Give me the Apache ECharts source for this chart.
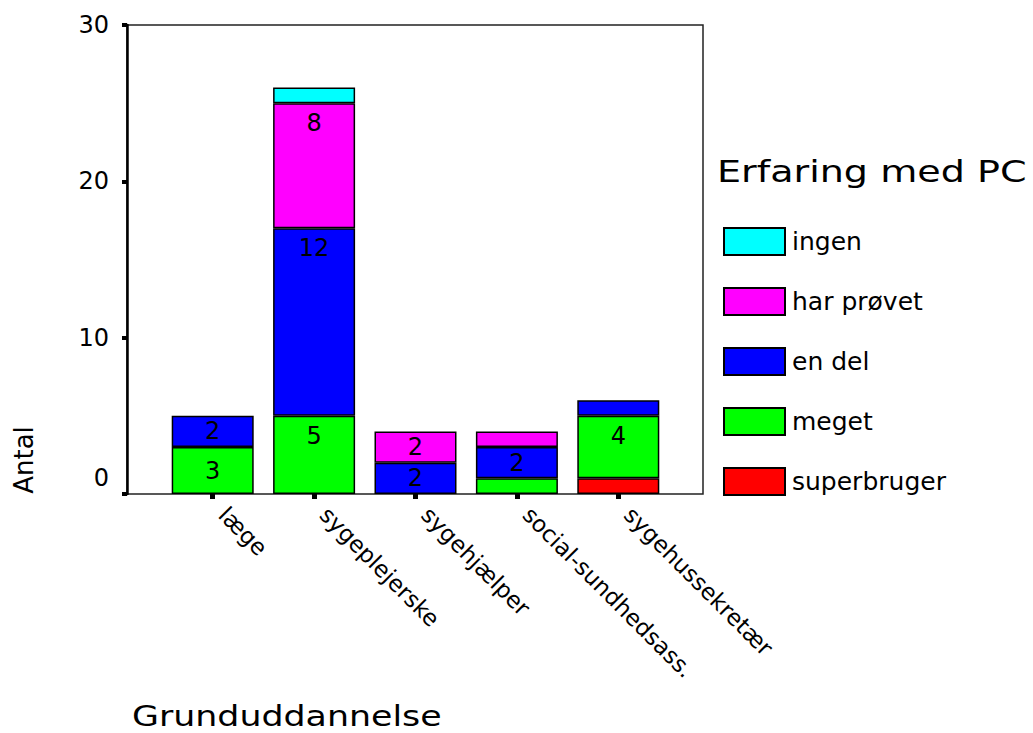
<!DOCTYPE html>
<html>
<head>
<meta charset="utf-8">
<script src="https://cdn.jsdelivr.net/npm/echarts@6/dist/echarts.min.js"></script>
<style>
  html, body { margin: 0; padding: 0; background: #fff; }
  #chart { width: 1033px; height: 733px; }
</style>
</head>
<body>
<div id="chart"></div>
<script>
// kategorier og tal
var categories = ['læge', 'sygeplejerske', 'sygehjælper', 'social-sundhedsass.', 'sygehussekretær'];
var superbruger = [0, 0, 0, 0, 1];
var meget = [3, 5, 0, 1, 4];
var enDel = [2, 12, 2, 2, 1];
var harProvet = [0, 8, 2, 1, 0];
var ingen = [0, 1, 0, 0, 0];
var yTicks = [0, 10, 20, 30];

var FONT = 'DejaVu Sans';

var myCharts = echarts.init(document.getElementById('chart'), null, {renderer: 'svg'});

// 0 tegnes ikke, tal under 2 får ingen etiket
function toData(arr) {
    return arr.map(function (v) {
        if (!v) return '-';
        return {
            value: v,
            label: {
                show: v >= 2,
                position: v > 3 ? 'insideTop' : 'inside',
                distance: 8
            }
        };
    });
}

function makeSeries(name, arr, color) {
    return {
        name: name,
        type: 'bar',
        stack: 'antal',
        xAxisIndex: 1,
        yAxisIndex: 1,
        barWidth: 82,
        data: toData(arr),
        itemStyle: {color: color, borderColor: '#000', borderWidth: 1.5},
        label: {color: '#000', fontFamily: FONT, fontSize: 24},
        animation: false
    };
}

var option = {
    animation: false,
    grid: [
        // ramme og y-akse
        {left: 127, right: 330, top: 25, bottom: 239, show: true, borderColor: '#222', borderWidth: 1.5},
        // søjlerne
        {left: 162, right: 364, top: 25, bottom: 239}
    ],
    legend: {
        orient: 'vertical',
        left: 723,
        top: 227,
        padding: 0,
        icon: 'rect',
        itemWidth: 61,
        itemHeight: 27,
        itemGap: 31,
        data: ['ingen', 'har prøvet', 'en del', 'meget', 'superbruger'],
        textStyle: {fontFamily: FONT, fontSize: 25, lineHeight: 27, color: '#000', padding: [0, 0, 0, 2]}
    },
    xAxis: [
        {gridIndex: 0, type: 'value', min: 0, max: 1, show: false},
        {
            gridIndex: 1,
            type: 'category',
            data: categories,
            axisLine: {show: false},
            axisTick: {show: true, alignWithLabel: true, length: 5, lineStyle: {color: '#000', width: 5}},
            axisLabel: {
                rotate: -45, margin: 7, padding: [0, 0, 0, 14], interval: 0,
                color: '#000', fontFamily: FONT, fontSize: 23
            }
        }
    ],
    yAxis: [
        {
            gridIndex: 0,
            type: 'value',
            min: yTicks[0],
            max: yTicks[yTicks.length - 1],
            interval: 10,
            splitLine: {show: false},
            axisLine: {show: true, lineStyle: {color: '#000', width: 2.5}},
            axisTick: {show: true, length: 5, lineStyle: {color: '#000', width: 4}},
            axisLabel: {
                margin: 18, color: '#000', fontFamily: FONT, fontSize: 24,
                // 0 står lidt over aksen i originalen
                formatter: function (v) { return v === 0 ? '{z|0}' : String(v); },
                rich: {z: {fontFamily: FONT, fontSize: 24, color: '#000', padding: [0, 0, 32, 0]}}
            }
        },
        {gridIndex: 1, type: 'value', min: 0, max: 30, show: false}
    ],
    graphic: [
        {
            type: 'text',
            x: 717, y: 172,
            scaleX: 1.27,
            style: {text: 'Erfaring med PC', font: '30px "DejaVu Sans"', fill: '#000', verticalAlign: 'middle'}
        },
        {
            type: 'text',
            x: 132, y: 716,
            scaleX: 1.2,
            style: {text: 'Grunduddannelse', font: '29px "DejaVu Sans"', fill: '#000', verticalAlign: 'middle'}
        },
        {
            type: 'text',
            x: 24, y: 460,
            rotation: Math.PI / 2,
            style: {text: 'Antal', font: '26px "DejaVu Sans"', fill: '#000', align: 'center', verticalAlign: 'middle'}
        }
    ],
    series: [
        makeSeries('superbruger', superbruger, '#ff0000'),
        makeSeries('meget', meget, '#00ff00'),
        makeSeries('en del', enDel, '#0000ff'),
        makeSeries('har prøvet', harProvet, '#ff00ff'),
        makeSeries('ingen', ingen, '#00ffff')
    ]
};
myCharts.setOption(option);
</script>
</body>
</html>
